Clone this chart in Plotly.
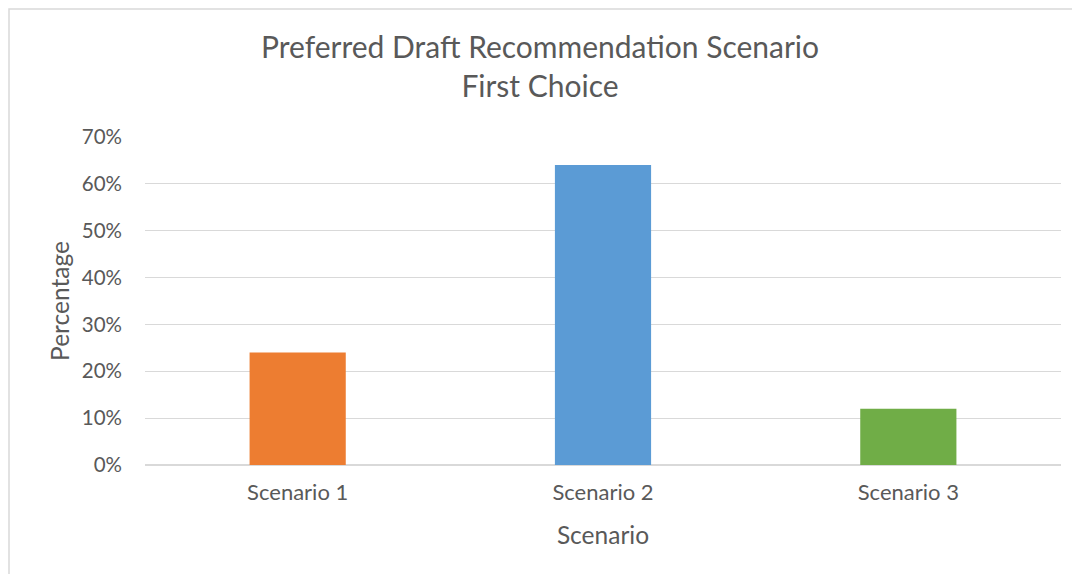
import plotly.graph_objects as go

# data
scenarios = ['Scenario 1', 'Scenario 2', 'Scenario 3']
percentages = [0.24, 0.64, 0.12]
bar_colors = ['#ED7D31', '#5B9BD5', '#70AD47']

font_family = 'Lato, Carlito, Calibri, sans-serif'
text_color = '#595959'

fig = go.Figure()
fig.add_trace(go.Bar(
    x=scenarios,
    y=percentages,
    marker=dict(color=bar_colors, line=dict(width=0)),
    width=0.315,
    showlegend=False,
))

# the page body adds an 8px margin, so the figure is 16px smaller than the window
fig.update_layout(
    width=1064, height=566,
    paper_bgcolor='white', plot_bgcolor='white',
    margin=dict(l=137, r=11, t=129, b=109),
    font=dict(family=font_family, color=text_color, size=21),
    title=dict(
        text='Preferred Draft Recommendation Scenario<br>First Choice',
        x=0.5, xanchor='center', y=0.912, yanchor='top',
        font=dict(size=30, color=text_color),
    ),
    xaxis=dict(
        title=dict(text='Scenario', font=dict(size=24.5), standoff=22),
        showgrid=False, showline=False, ticks='',
        tickfont=dict(size=22), ticklabelstandoff=12,
    ),
    yaxis=dict(
        title=dict(text='Percentage', font=dict(size=24.5), standoff=5),
        range=[0, 0.7], dtick=0.1, tickformat='.0%',
        showgrid=True, gridcolor='#D9D9D9', gridwidth=1,
        zeroline=True, zerolinecolor='#D9D9D9', zerolinewidth=1.5,
        showline=False, ticks='', tickfont=dict(size=20.5),
        ticklabelstandoff=22,
    ),
)

# light chart border along the top and left edges of the figure
fig.add_shape(
    type='rect', xref='paper', yref='paper',
    x0=(1 - 137) / 916, x1=1.2, y0=-0.5, y1=(457 - 1) / 328,
    line=dict(color='#D9D9D9', width=1.5), layer='below',
)

fig.write_html('out.html')
